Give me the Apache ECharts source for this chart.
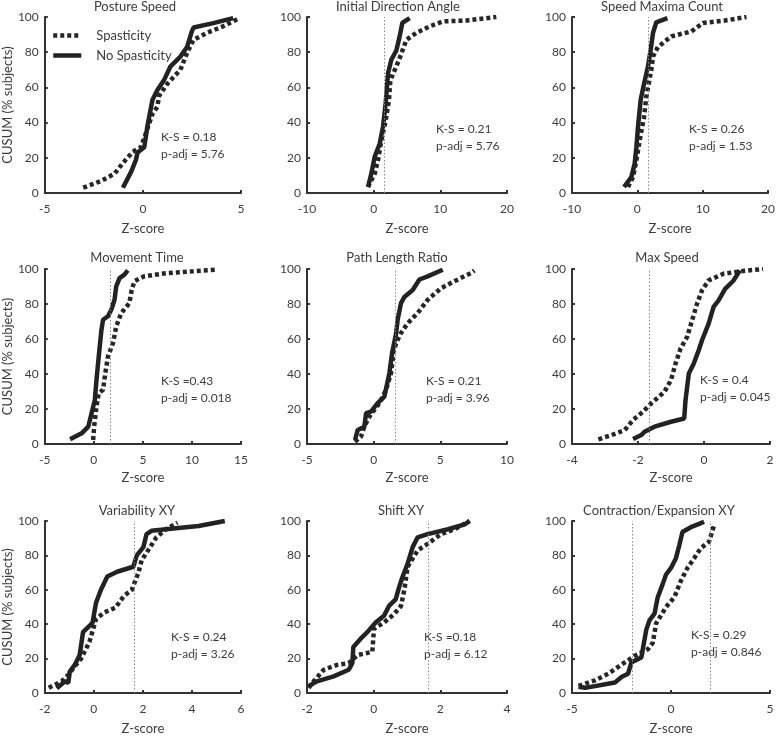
<!DOCTYPE html>
<html><head><meta charset="utf-8">
<script src="https://cdn.jsdelivr.net/npm/echarts@6/dist/echarts.min.js"></script>
<style>html,body{margin:0;padding:0;background:#fff}#c{width:778px;height:736px}</style>
</head><body><div id="c"></div><script>
// ---------- data ----------
const panelTitles = ['Posture Speed','Initial Direction Angle','Speed Maxima Count','Movement Time','Path Length Ratio','Max Speed','Variability XY','Shift XY','Contraction/Expansion XY'];
const ksLabels = ['K-S = 0.18','K-S = 0.21','K-S = 0.26','K-S =0.43','K-S = 0.21','K-S = 0.4','K-S = 0.24','K-S =0.18','K-S = 0.29'];
const pAdjLabels = ['p-adj = 5.76','p-adj = 5.76','p-adj = 1.53','p-adj = 0.018','p-adj = 3.96','p-adj = 0.045','p-adj = 3.26','p-adj = 6.12','p-adj = 0.846'];
const xMins = [-5,-10,-10,-5,-5,-4,-2,-2,-5];
const xMaxs = [5,20,20,15,10,2,6,4,5];
const xIntervals = [5,10,10,5,5,2,2,2,5];
const thresholds = [[],[1.65],[1.65],[1.65],[1.65],[-1.65],[1.65],[1.65],[-1.96,1.96]];
const seriesNames = ['Spasticity','No Spasticity'];

const postureSpeedSpast = [[-3.04,3],[-2.1,7],[-1.44,11],[-1.02,17],[-0.52,23.4],[-0.1,26],[0.15,34],[0.49,45],[0.74,49],[0.82,55],[1.24,62],[1.91,70],[2.25,79.5],[2.58,87],[3.26,91],[4.09,94.7],[4.93,99.4]];
const postureSpeedNoSpast = [[-1.02,3],[-0.6,12],[-0.35,19],[-0.27,23],[0.07,26],[0.23,38],[0.49,53],[0.74,58.5],[1.07,64],[1.41,72],[1.91,77.5],[2.25,83],[2.5,92],[2.58,94],[3.59,96.5],[4.6,99.4]];
const initAngleSpast = [[-0.85,3.4],[0.15,11],[0.65,18.6],[1.15,30],[1.8,41],[2.3,53],[2.5,64],[3.4,72],[3.9,76.6],[4.9,87],[6.4,91],[8.4,94.7],[10.4,97.5],[13.9,98],[18.4,100]];
const initAngleNoSpast = [[-0.85,3.4],[-0.35,11],[0.15,20.5],[0.9,28],[1.4,37.6],[1.8,51],[2,60.5],[2.15,68],[2.65,75.7],[3.4,81],[3.9,89],[4.3,96.6],[5.4,99.4]];
const speedMaxSpast = [[-1.43,3.4],[-0.66,9],[-0.15,18.6],[0.36,30],[1.02,43],[1.38,54.8],[1.73,62],[2.14,70],[2.4,77.6],[3.16,83],[5.2,89],[8.27,91.8],[10.05,96.6],[13.4,98],[16.7,100]];
const speedMaxNoSpast = [[-2.04,3.4],[-0.92,9],[-0.41,16.7],[-0.15,26],[0.1,37.6],[0.51,53],[1.02,62],[1.63,72],[2.04,81.4],[2.4,91],[2.9,97],[4.6,99.4]];
const moveTimeSpast = [[-0.07,2.3],[0.03,9.9],[0.27,21.4],[0.5,29],[0.94,31],[1.17,40.5],[1.44,50],[1.95,57.6],[2.28,67],[2.79,74.8],[3.62,80.5],[3.86,88],[4.13,93],[5.13,95.8],[7.48,97.7],[10.17,98.7],[12.5,99.6]];
const moveTimeNoSpast = [[-2.42,2.7],[-1.24,6.1],[-0.57,9.9],[-0.23,17.6],[0.1,25],[0.27,36.6],[0.5,50],[0.77,65],[0.94,71],[1.44,73],[1.78,76.7],[2.11,82.4],[2.28,90],[2.62,94.8],[3.12,96.8],[3.46,99.2]];
const pathRatioSpast = [[-1.4,1.3],[-0.95,4.2],[-0.7,9.9],[-0.32,15.6],[0.05,19.5],[0.43,23.3],[0.93,31],[1.3,40.5],[1.48,52],[1.68,57.6],[2.05,63.4],[2.55,69],[3.3,74.8],[4.05,82.4],[5.05,89],[6.05,93],[7.3,97.7],[7.55,99.2]];
const pathRatioNoSpast = [[-1.4,2.3],[-1.2,8],[-0.7,9.9],[-0.57,17.6],[-0.2,18.5],[0.3,23.3],[0.8,27],[1.18,40.5],[1.38,52],[1.68,63],[1.8,71],[2.05,80.5],[2.3,84],[2.93,88],[3.43,94],[4.05,95.8],[5.18,99.6]];
const maxSpeedSpast = [[-3.2,2.7],[-2.8,5.1],[-2.4,8],[-2.15,13.7],[-1.85,18.4],[-1.6,23.2],[-1.2,29.8],[-1.0,36.5],[-0.86,46],[-0.71,54.6],[-0.51,61.2],[-0.36,70.7],[-0.21,80.2],[-0.06,87.8],[0.14,93.5],[0.59,97.3],[1.19,98.9],[1.79,100]];
const maxSpeedNoSpast = [[-2.15,2.9],[-1.9,5.1],[-1.8,7],[-1.5,9.9],[-1.0,12.7],[-0.6,14.6],[-0.56,25],[-0.46,40.3],[-0.31,46],[-0.16,53.6],[-0.06,59.3],[0.14,68.8],[0.29,78.3],[0.44,82],[0.64,88.6],[0.89,93.3],[1.09,99.2]];
const variabilitySpast = [[-1.84,3],[-1.31,6.8],[-1.04,10.6],[-0.78,15.4],[-0.51,20.2],[-0.18,29.7],[0.09,43],[0.42,46.8],[0.88,49.6],[1.22,56.3],[1.55,60],[1.81,69.6],[1.95,77.2],[2.21,82.9],[2.55,90.5],[2.94,95.2],[3.41,99]];
const variabilityNoSpast = [[-1.51,2.7],[-1.18,6.8],[-1.04,5.9],[-0.98,12.5],[-0.78,16.3],[-0.58,22],[-0.44,35.4],[-0.18,39],[-0.05,41],[0.09,52.5],[0.29,60],[0.55,67.7],[0.95,70.5],[1.61,73.4],[1.75,80],[2.02,84.8],[2.15,92.4],[2.35,94.3],[2.94,95.2],[4.27,97.1],[5.34,100]];
const shiftSpast = [[-1.95,3],[-1.8,6.8],[-1.5,13.5],[-1.1,16.3],[-0.75,17.3],[-0.49,22],[-0.04,24],[0.01,37.3],[0.31,41],[0.61,45.8],[0.82,50.6],[0.92,60],[1.02,73.4],[1.32,82.9],[1.62,86.7],[2.02,92.4],[2.43,95.2],[2.88,100]];
const shiftNoSpast = [[-1.95,4],[-1.7,6.8],[-1.2,9.7],[-0.75,13.5],[-0.64,17.3],[-0.61,26.8],[-0.39,31.6],[-0.19,35.4],[0.06,41],[0.31,44.9],[0.46,50.6],[0.66,54.4],[0.77,62],[0.87,67.7],[1.02,75.3],[1.17,84.8],[1.32,90.5],[1.62,92.4],[2.23,95.2],[2.73,98],[2.88,100]];
const contractSpast = [[-4.67,4.2],[-3.83,7.4],[-3.17,11.2],[-2.33,17.8],[-1.83,21.6],[-1.17,25.4],[-0.92,29.2],[-0.75,40.5],[-0.25,50],[0.17,55.7],[0.5,65.2],[0.83,72.7],[1.17,78.4],[1.5,84.1],[1.92,87.9],[2.17,97.3]];
const contractNoSpast = [[-4.67,3.6],[-4.33,3],[-2.83,6.1],[-2.5,9.3],[-2.17,11.2],[-2.0,17.8],[-1.5,20.6],[-1.25,36.7],[-1.08,42.4],[-0.83,46.2],[-0.67,55.7],[-0.42,63.3],[-0.25,68.9],[0,72.7],[0.25,78.4],[0.42,86],[0.58,93.6],[1.0,96.4],[1.42,98.3],[1.67,99.6]];

const spastData = [postureSpeedSpast, initAngleSpast, speedMaxSpast, moveTimeSpast, pathRatioSpast, maxSpeedSpast, variabilitySpast, shiftSpast, contractSpast];
const noSpastData = [postureSpeedNoSpast, initAngleNoSpast, speedMaxNoSpast, moveTimeNoSpast, pathRatioNoSpast, maxSpeedNoSpast, variabilityNoSpast, shiftNoSpast, contractNoSpast];

// ---------- layout ----------
const FONT = 'Lato, "Noto Sans", sans-serif';
const TXT = '#3c3c3c';
const colLeft = [43, 307, 572], colWidth = [198, 200, 198];
const rowTop = [17, 269, 521], rowHeight = [176, 175, 176];
const titlePos = [[135,7],[398,7],[662,7],[137,258],[397,258],[667,258],[137,511],[401,511],[659,511]];
const annotPos = [[161,137],[436,129],[689,129],[161,381],[426,381],[700,380],[171,637],[424,637],[691,635]];

const grid = [], xAxis = [], yAxis = [], series = [], graphic = [];
for (let i = 0; i < 9; i++) {
  const r = Math.floor(i / 3), c = i % 3;
  grid.push({left: colLeft[c], top: rowTop[r], width: colWidth[c], height: rowHeight[r], containLabel: false});
  xAxis.push({
    gridIndex: i, type: 'value', min: xMins[i], max: xMaxs[i], interval: xIntervals[i],
    name: 'Z-score', nameLocation: 'middle', nameGap: r === 1 ? 27 : 29,
    nameTextStyle: {fontFamily: FONT, fontSize: 13, color: TXT},
    axisLine: {show: true, onZero: false, lineStyle: {color: '#333', width: 2}},
    axisTick: {show: true, inside: true, length: 3, lineStyle: {color: '#333', width: 2}},
    axisLabel: {fontFamily: FONT, fontSize: 12, color: TXT, margin: 10},
    splitLine: {show: false}
  });
  yAxis.push({
    gridIndex: i, type: 'value', min: 0, max: 100, interval: 20,
    name: c === 0 ? 'CUSUM (% subjects)' : '', nameLocation: 'middle', nameGap: 28,
    nameTextStyle: {fontFamily: FONT, fontSize: 13, color: TXT},
    axisLine: {show: true, onZero: false, lineStyle: {color: '#333', width: 2}},
    axisTick: {show: true, inside: true, length: 3, lineStyle: {color: '#333', width: 2}},
    axisLabel: {fontFamily: FONT, fontSize: 12, color: TXT, margin: 6},
    splitLine: {show: false}
  });
  series.push({
    name: seriesNames[0], type: 'line', xAxisIndex: i, yAxisIndex: i,
    data: spastData[i], showSymbol: false, symbol: 'none', silent: true, animation: false,
    lineStyle: {color: '#262626', width: 4.5, type: [4, 3], cap: 'butt'},
    itemStyle: {color: '#262626'},
    markLine: thresholds[i].length ? {
      silent: true, symbol: 'none', label: {show: false}, animation: false,
      lineStyle: {color: '#888', width: 1, type: [1.5, 2]},
      data: thresholds[i].map(v => ({xAxis: v}))
    } : undefined,
    z: 2
  });
  series.push({
    name: seriesNames[1], type: 'line', xAxisIndex: i, yAxisIndex: i,
    data: noSpastData[i], showSymbol: false, symbol: 'none', silent: true, animation: false,
    lineStyle: {color: '#222', width: 4.5, type: 'solid'},
    itemStyle: {color: '#222'},
    z: 3
  });
  graphic.push({type: 'text', x: titlePos[i][0], y: titlePos[i][1],
    style: {text: panelTitles[i], fill: TXT, font: '13px ' + FONT, textAlign: 'center', textVerticalAlign: 'middle'}});
  graphic.push({type: 'text', x: annotPos[i][0], y: annotPos[i][1],
    style: {text: ksLabels[i], fill: TXT, font: '12px ' + FONT, textAlign: 'left', textVerticalAlign: 'middle'}});
  graphic.push({type: 'text', x: annotPos[i][0], y: annotPos[i][1] + 17,
    style: {text: pAdjLabels[i], fill: TXT, font: '12px ' + FONT, textAlign: 'left', textVerticalAlign: 'middle'}});
}

const chart = echarts.init(document.getElementById('c'), null, {renderer: 'canvas'});
chart.setOption({
  backgroundColor: '#fff',
  animation: false,
  grid, xAxis, yAxis, series, graphic,
  legend: {
    data: seriesNames, orient: 'vertical', left: 46, top: 24,
    itemWidth: 28, itemHeight: 12, itemGap: 7,
    itemStyle: {opacity: 0},
    lineStyle: {width: 4.5},
    textStyle: {fontFamily: FONT, fontSize: 13, color: TXT, padding: [0, 0, 0, 10]},
    selectedMode: false
  }
});
</script></body></html>
